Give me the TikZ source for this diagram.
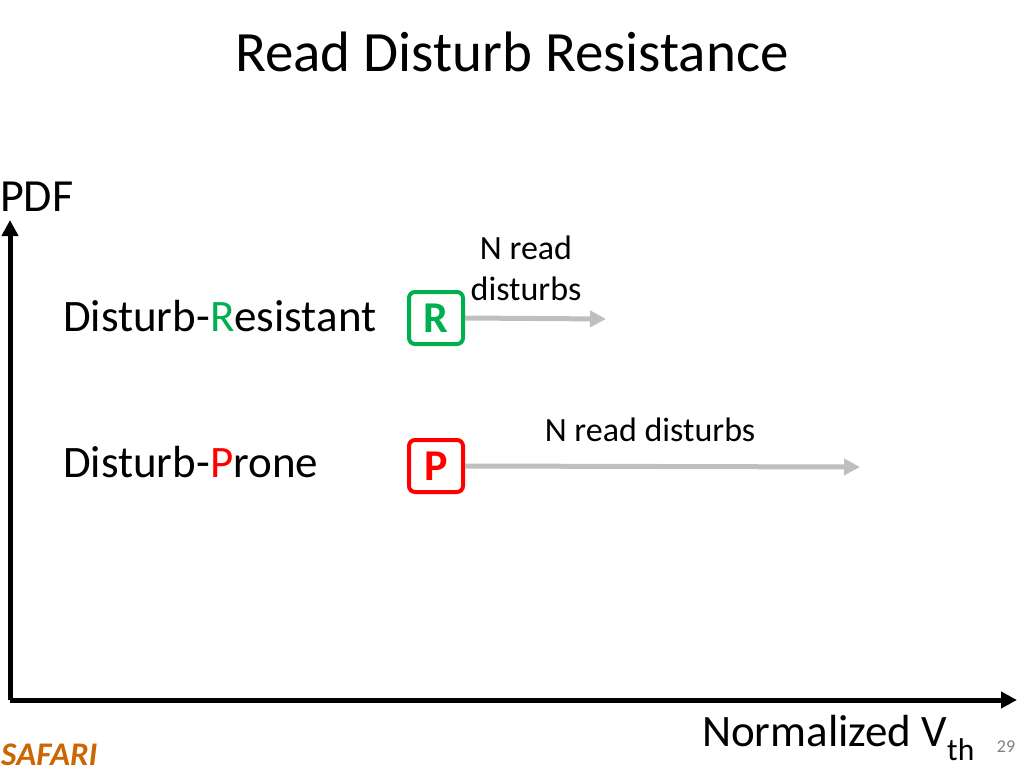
\documentclass[tikz,border=0pt]{standalone}
\usepackage{fontspec}
\setmainfont{Carlito}
\usetikzlibrary{arrows.meta}
\definecolor{rg}{RGB}{0,176,80}
\definecolor{pr}{RGB}{255,0,0}
\definecolor{ga}{RGB}{191,191,191}
\definecolor{saf}{RGB}{204,102,0}
\begin{document}
\begin{tikzpicture}[x=1pt,y=-1pt,
  box/.style={draw,line width=4pt,rounded corners=6pt,minimum width=54pt,minimum height=52pt,inner sep=0pt,font=\fontsize{44}{44}\selectfont\bfseries},
  garrow/.style={ga,line width=5pt,-{Triangle[length=16pt,width=16pt]}},
  axis/.style={line width=5pt,-{Triangle[length=16pt,width=16pt]}},
  lbl/.style={font=\fontsize{45}{50}\selectfont,anchor=west,inner sep=0pt},
  sm/.style={font=\fontsize{34}{41}\selectfont,align=center,inner sep=0pt}]
\useasboundingbox (0,0) rectangle (1024,768);
\node (title) at (512,52) {\fontsize{57}{64}\selectfont Read Disturb Resistance};
\node[anchor=west,inner sep=0pt] (pdf) at (0,197) {\fontsize{46}{50}\selectfont PDF};
\coordinate (o) at (10,700);
\coordinate (ytop) at (10,220);
\coordinate (xend) at (1017,700);
\draw[axis] (o) -- (ytop);
\draw[axis] (o) -- (xend);
\node[lbl] (dr) at (63,316) {Disturb-\textcolor{rg}{R}esistant};
\node[lbl] (dp) at (63,462) {Disturb-\textcolor{pr}{P}rone};
\node[box,rg] (R) at (436,318) {R};
\node[box,pr] (P) at (436,466) {P};
\coordinate (re) at (606,319);
\coordinate (pe) at (860,467);
\draw[garrow] (R.east) -- (re);
\draw[garrow] (P.east) -- (pe);
\node[sm] (l1) at (526,268) {N read\\disturbs};
\node[sm] (l2) at (650,430) {N read disturbs};
\node[anchor=east,inner sep=0pt] (nv) at (975,738) {\fontsize{45}{50}\selectfont Normalized V\textsubscript{th}};
\node[text=gray] (pg) at (1006,747) {\fontsize{18}{20}\selectfont 29};
\node[anchor=west,text=saf,inner sep=0pt] (saf) at (1,755) {\fontsize{33}{36}\selectfont\bfseries\itshape SAFARI};
\end{tikzpicture}
\end{document}
